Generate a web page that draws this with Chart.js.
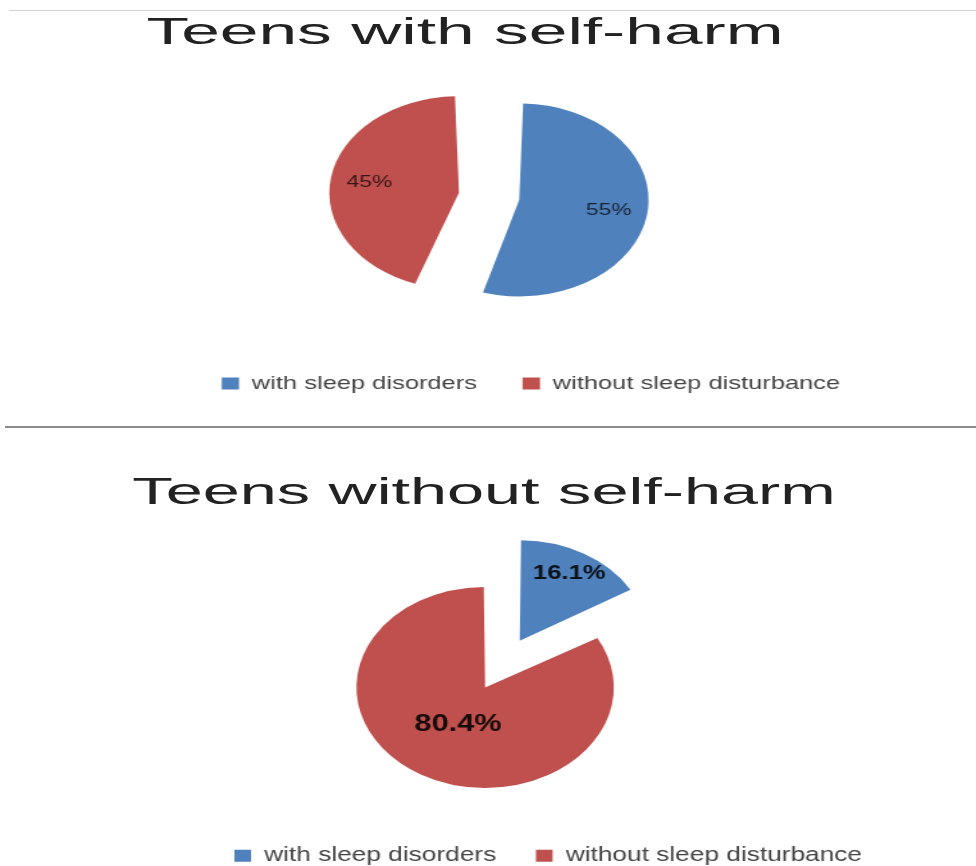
<!DOCTYPE html>
<html>
<head>
<meta charset="utf-8">
<script src="https://cdn.jsdelivr.net/npm/chart.js@4.4.0/dist/chart.umd.min.js"></script>
<style>
  html, body { margin: 0; padding: 0; background: #fff; overflow: hidden; }
  body { width: 976px; height: 866px; position: relative; font-family: "Liberation Sans", Arial, sans-serif; }
  canvas { position: absolute; left: 0; }
  .title { position: absolute; white-space: nowrap; color: #222; line-height: 1; transform-origin: center top; z-index: 2; }
  .rule { position: absolute; }
</style>
</head>
<body>
<div class="rule" style="left:9px;top:10px;width:967px;height:1px;background:#cfcfcf"></div>
<div class="rule" style="left:5px;top:426px;width:971px;height:2px;background:#8a8a8a"></div>
<div id="title1" class="title" style="left:465px;top:14px;font-size:36px;transform:translateX(-50%) scaleX(1.93)"></div>
<div id="title2" class="title" style="left:484px;top:473px;font-size:37px;transform:translateX(-50%) scaleX(1.8)"></div>
<!-- canvases are drawn narrow and stretched sideways, like the oval pies in the picture -->
<canvas id="chartTop" width="728" height="403" style="top:0;width:976px;height:403px"></canvas>
<canvas id="chartBottom" width="762" height="436" style="top:440px;width:976px;height:436px"></canvas>
<script>
const categories = ['with sleep disorders', 'without sleep disturbance']
const titles = ['Teens with self-harm', 'Teens without self-harm']
const withSelfHarm = [55, 45]
const withoutSelfHarm = [16.1, 80.4]
const colors = ['#4F81BD', '#C0504D']

document.getElementById('title1').textContent = titles[0]
document.getElementById('title2').textContent = titles[1]

Chart.defaults.font.family = '"Liberation Sans", Arial, sans-serif'

// percent text inside each slice
// (chart.js moves an arc by offset/4 and grows it a little, so follow that)
const sliceLabels = {
  id: 'sliceLabels',
  afterDatasetsDraw (chart, args, opts) {
    const ctx = chart.ctx
    const values = chart.data.datasets[0].data
    chart.getDatasetMeta(0).data.forEach(function (arc, i) {
      const mid = (arc.startAngle + arc.endAngle) / 2
      const shift = (arc.options.offset || 0) / 4
      const fix = 1 - Math.sin(Math.min(Math.PI, arc.circumference))
      const r = shift + (arc.outerRadius + shift * fix) * opts.radius[i]
      ctx.save()
      ctx.font = opts.fonts[i]
      ctx.fillStyle = opts.color
      ctx.textAlign = 'center'
      ctx.textBaseline = 'middle'
      ctx.fillText(values[i] + '%', arc.x + Math.cos(mid) * r, arc.y + Math.sin(mid) * r)
      ctx.restore()
    })
  }
}

// legend sits a bit right of the pie in the original
const legendShift = {
  id: 'legendShift',
  afterLayout (chart, args, opts) {
    chart.legend.left += opts.dx
    chart.legend.right += opts.dx
  }
}

function makePie (id, values, cfg) {
  return new Chart(document.getElementById(id), {
    type: 'pie',
    data: {
      labels: categories,
      datasets: [{
        data: values,
        backgroundColor: colors,
        borderWidth: 0,
        offset: cfg.offset,
        clip: false
      }]
    },
    options: {
      responsive: false,
      animation: false,
      events: [],
      radius: cfg.radius,
      layout: { padding: cfg.padding },
      plugins: {
        legend: {
          position: 'bottom',
          labels: {
            boxWidth: 13,
            boxHeight: 12,
            padding: cfg.legendPadding,
            color: '#444',
            font: { size: cfg.legendSize }
          }
        },
        tooltip: { enabled: false },
        sliceLabels: cfg.labels,
        legendShift: { dx: cfg.legendDx }
      }
    },
    plugins: [sliceLabels, legendShift]
  })
}

makePie('chartTop', withSelfHarm, {
  offset: [74, 108],
  radius: 78,
  padding: { top: 54, left: 10 },
  legendPadding: 34,
  legendSize: 19,
  legendDx: 27,
  labels: { radius: [0.7, 0.7], fonts: ['17px "Liberation Sans"', '17px "Liberation Sans"'], color: 'rgba(0,0,0,0.72)' }
})

makePie('chartBottom', withoutSelfHarm, {
  offset: [190, 26],
  radius: 94,
  padding: { top: 109, left: 2 },
  legendPadding: 31,
  legendSize: 20.5,
  legendDx: 46,
  labels: { radius: [0.77, 0.42], fonts: ['bold 20px "Liberation Sans"', 'bold 24px "Liberation Sans"'], color: 'rgba(0,0,0,0.88)' }
})
</script>
</body>
</html>
